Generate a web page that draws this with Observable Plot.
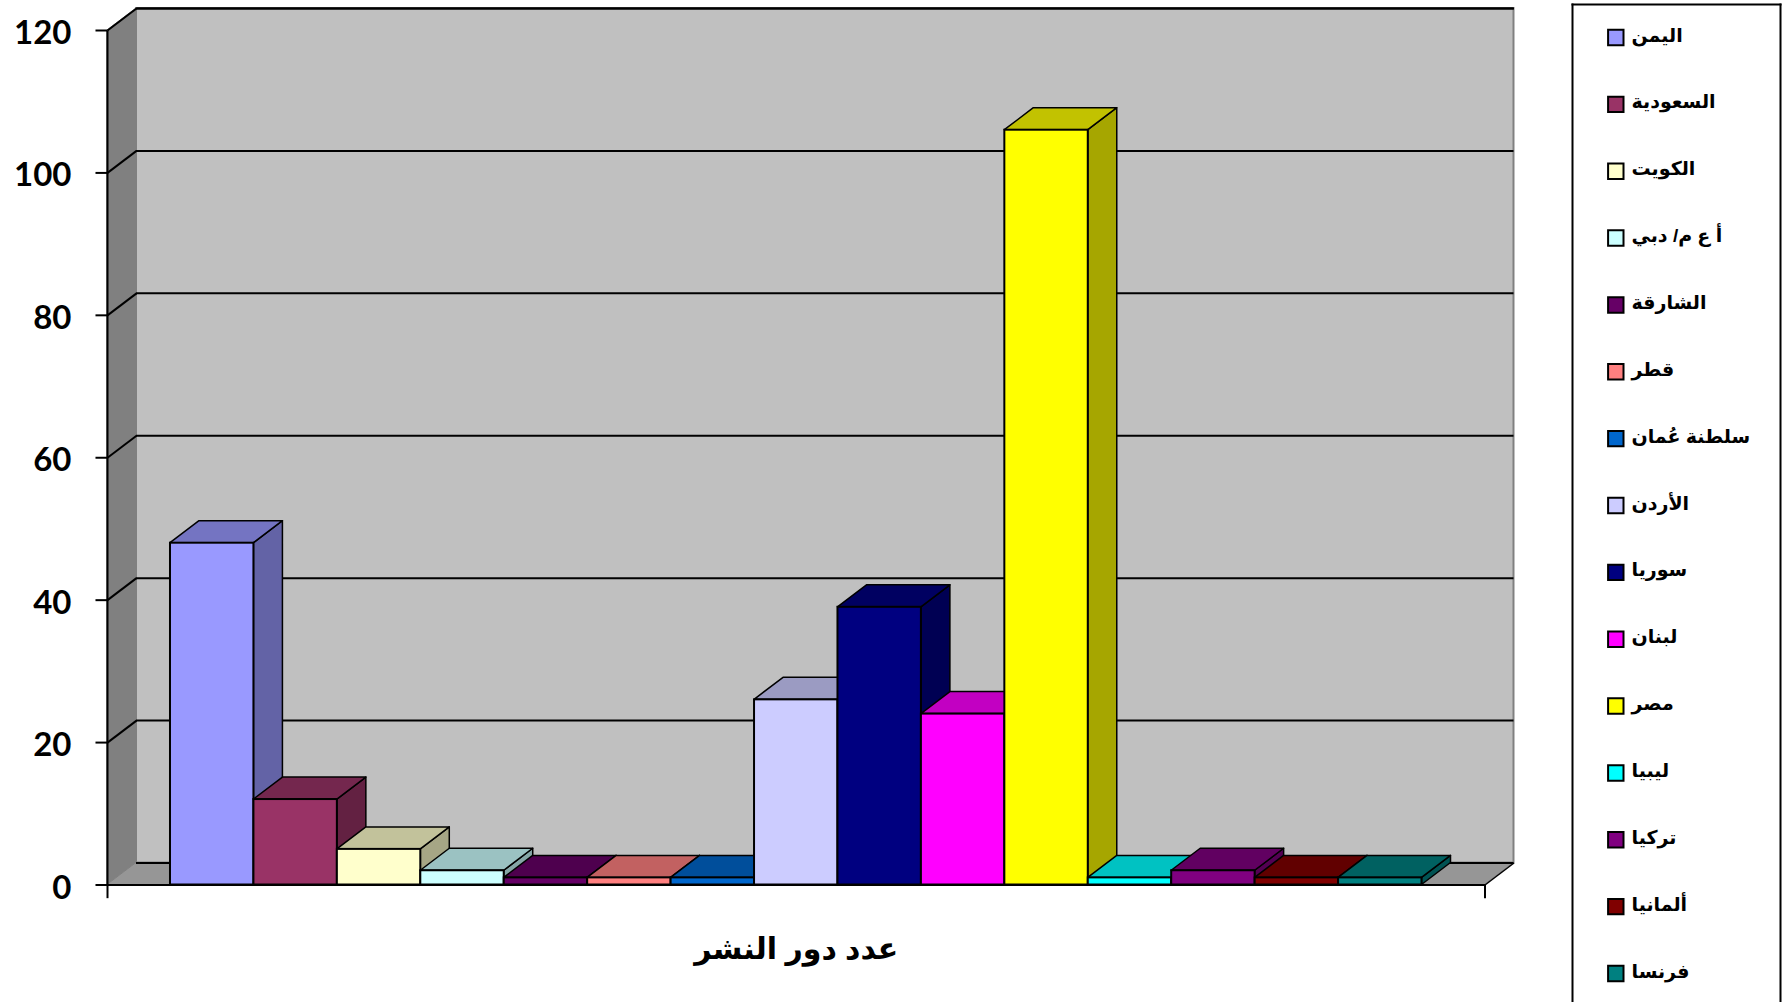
<!DOCTYPE html>
<html><head><meta charset="utf-8">
<script src="https://cdn.jsdelivr.net/npm/d3@7"></script>
<script src="https://cdn.jsdelivr.net/npm/@observablehq/plot@0.6"></script>
<style>
html,body{margin:0;padding:0;background:#fff;overflow:hidden}
#wrap{position:relative;width:1791px;height:1002px;overflow:hidden}
#wrap svg{position:absolute;top:0;max-width:none}
</style></head><body><div id="wrap"></div>
<script>
const countries = ["اليمن","السعودية","الكويت","أ ع م/ دبي","الشارقة","قطر","سلطنة عُمان","الأردن","سوريا","لبنان","مصر","ليبيا","تركيا","ألمانيا","فرنسا"];
const values = [48,12,5,2,1,1,1,26,39,24,106,1,2,1,1];
const colors = ["#9999FF","#993366","#FFFFCC","#CCFFFF","#660066","#FF8080","#0066CC","#CCCCFF","#000080","#FF00FF","#FFFF00","#00FFFF","#800080","#800000","#008080"];
const yTicks = [0,20,40,60,80,100,120];
const axisTitle = "عدد دور النشر";
const depthX = 0.3475, depthY = 3.09, xMin = -0.755, xMax = 15.755;
const tickX = 0.144, tickY = 1.85;
const topShade = 0.76, sideShade = 0.65;
const shade = (c,k)=>{const r=d3.rgb(c);return d3.rgb(r.r*k,r.g*k,r.b*k).formatHex();};
const bars = countries.map((name,i)=>({name,i,v:values[i],c:colors[i]}));

const sideMark = b => Plot.areaY([{x:b.i+1,y1:0,y2:b.v},{x:b.i+1+depthX,y1:depthY,y2:b.v+depthY}],
  {x:"x",y1:"y1",y2:"y2",fill:shade(b.c,sideShade),stroke:"#000",strokeWidth:1.5,curve:"linear"});
const topMark = b => Plot.areaX([{y:b.v,x1:b.i,x2:b.i+1},{y:b.v+depthY,x1:b.i+depthX,x2:b.i+1+depthX}],
  {y:"y",x1:"x1",x2:"x2",fill:shade(b.c,topShade),stroke:"#000",strokeWidth:1.5,curve:"linear"});
const frontMark = b => Plot.rect([b],{x1:d=>d.i,x2:d=>d.i+1,y1:()=>0,y2:d=>d.v,fill:b.c,stroke:"#000",strokeWidth:2});

const chart = Plot.plot({
  width:1791,height:1002,marginLeft:107,marginRight:306.5,marginTop:30,marginBottom:117.5,
  style:{background:"transparent",overflow:"visible"},
  x:{domain:[xMin,xMax],axis:null},
  y:{domain:[0,120],axis:null},
  marks:[
    Plot.rect([0],{x1:()=>xMin+depthX,x2:()=>xMax+depthX,y1:()=>depthY,y2:()=>120+depthY,fill:"#C0C0C0",stroke:"#808080",strokeWidth:2}),
    Plot.link([0],{x1:()=>xMin+depthX,x2:()=>xMax+depthX,y1:()=>120+depthY,y2:()=>120+depthY,stroke:"#000",strokeWidth:2}),
    Plot.areaY([{x:xMin,y1:0,y2:120},{x:xMin+depthX,y1:depthY,y2:120+depthY}],{x:"x",y1:"y1",y2:"y2",fill:"#808080",stroke:"#808080",strokeWidth:1}),
    Plot.areaX([{y:0,x1:xMin,x2:xMax},{y:depthY,x1:xMin+depthX,x2:xMax+depthX}],{y:"y",x1:"x1",x2:"x2",fill:"#969696",stroke:"#808080",strokeWidth:1}),
    Plot.ruleY(yTicks,{y:d=>d+depthY,x1:()=>xMin+depthX,x2:()=>xMax+depthX,stroke:"#000",strokeWidth:2}),
    Plot.link(yTicks.filter(d=>d>0),{x1:()=>xMin,x2:()=>xMin+depthX,y1:d=>d,y2:d=>d+depthY,stroke:"#000",strokeWidth:2}),
    Plot.link([0],{x1:()=>xMax,x2:()=>xMax+depthX,y1:()=>0,y2:()=>depthY,stroke:"#000",strokeWidth:1.5}),
    ...bars.flatMap(b=>[sideMark(b),topMark(b),frontMark(b)]),
    Plot.link([0],{x1:()=>xMin,x2:()=>xMin,y1:()=>0,y2:()=>120,stroke:"#000",strokeWidth:2}),
    Plot.link([0],{x1:()=>xMin,x2:()=>xMax,y1:()=>0,y2:()=>0,stroke:"#000",strokeWidth:2}),
    Plot.link(yTicks,{x1:()=>xMin-tickX,x2:()=>xMin,y1:d=>d,y2:d=>d,stroke:"#000",strokeWidth:2}),
    Plot.link([xMin,xMax],{x1:d=>d,x2:d=>d,y1:()=>0,y2:()=>-tickY,stroke:"#000",strokeWidth:2}),
    Plot.text(yTicks,{x:()=>xMin,y:d=>d,text:d=>String(d),textAnchor:"end",dx:-36,dy:3,fontFamily:"Lato, Carlito, sans-serif",fontWeight:"bold",fontSize:33,fill:"#000"}),
    Plot.text([axisTitle],{x:()=>(xMin+xMax)/2,y:()=>0,text:d=>d,dy:64,fontFamily:"'Liberation Sans','DejaVu Sans',sans-serif",fontWeight:"bold",fontSize:30,fill:"#000"})
  ]
});
const wrap = document.getElementById("wrap");
wrap.appendChild(chart);

const legend = Plot.plot({
  width:231,height:1002,marginLeft:12,marginRight:11,marginTop:4,marginBottom:0,
  style:{background:"#fff"},
  x:{domain:[0,1],axis:null},
  y:{type:"point",domain:countries,range:[37,973],padding:0,round:false,axis:null},
  marks:[
    Plot.frame({anchor:"left",stroke:"#000",strokeWidth:2}),
    Plot.frame({anchor:"right",stroke:"#000",strokeWidth:2}),
    Plot.frame({anchor:"top",stroke:"#000",strokeWidth:2}),
    Plot.dot(bars,{x:()=>0,y:"name",dx:43.3,symbol:"square",r:8.7,fill:"c",stroke:"#000",strokeWidth:2}),
    Plot.text(countries,{x:()=>0,y:d=>d,dx:59,dy:-2,text:d=>d,textAnchor:"start",fontFamily:"'Liberation Sans','DejaVu Sans',sans-serif",fontWeight:"bold",fontSize:19,fill:"#000"})
  ]
});
legend.style.left="1560px";
wrap.appendChild(legend);
</script></body></html>
